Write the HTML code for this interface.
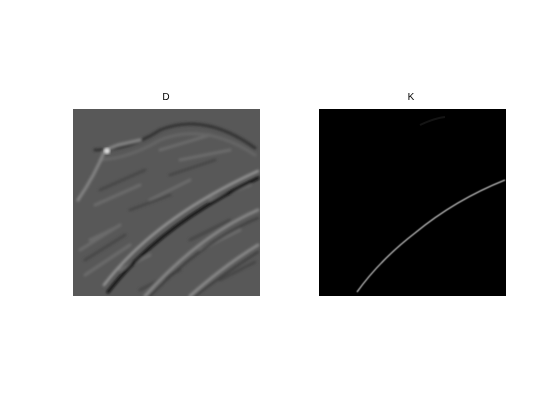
<!DOCTYPE html>
<html><head><meta charset="utf-8"><style>
html,body{margin:0;padding:0;background:#fff;width:559px;height:419px;overflow:hidden}
svg{display:block}
text{font-family:"Liberation Sans",sans-serif;font-size:10px}
</style></head><body>
<svg width="559" height="419">
<defs>
<filter id="bl" x="-10%" y="-10%" width="120%" height="120%"><feGaussianBlur stdDeviation="1.2"/></filter>
<filter id="bl2"><feGaussianBlur stdDeviation="0.5"/></filter>
<clipPath id="cL"><rect x="73" y="109" width="187" height="187"/></clipPath>
<clipPath id="cR"><rect x="319" y="109" width="187" height="187"/></clipPath>
</defs>
<text x="166" y="100" text-anchor="middle">D</text>
<text x="411" y="100" text-anchor="middle">K</text>
<g clip-path="url(#cL)">
<rect x="73" y="109" width="187" height="187" fill="#585858"/>
<g filter="url(#bl)" fill="none" stroke-linecap="round">
<path d="M80,250 L120,225 M85,275 L130,245 M150,200 L190,180 M95,205 L140,185 M160,150 L210,135 M200,250 L240,230 M120,270 L150,255 M180,160 L230,150 M90,240 L115,228 M210,200 L250,185" stroke="#6c6c6c" stroke-width="3"/>
<path d="M85,260 L125,235 M100,190 L145,170 M170,175 L215,160 M190,240 L230,220 M130,210 L170,195 M220,280 L255,262 M140,290 L180,270" stroke="#474747" stroke-width="3"/>
<path d="M95,150 Q130,150 160,130 Q205,112 255,148" stroke="#333" stroke-width="3"/>
<path d="M100,160 Q130,158 160,140 Q205,122 255,155" stroke="#666" stroke-width="3"/>
<path d="M78,200 Q95,175 105,150 L118,145 L140,140" stroke="#858585" stroke-width="3"/>
<path d="M108,292 Q160,225 258,178" stroke="#111" stroke-width="3"/>
<path d="M104,285 Q155,218 258,171" stroke="#999" stroke-width="2.5"/>
<path d="M145,296 Q200,235 258,210" stroke="#888" stroke-width="3"/>
<path d="M150,296 Q205,240 258,218" stroke="#3a3a3a" stroke-width="2"/>
<path d="M190,296 Q225,265 258,245" stroke="#8a8a8a" stroke-width="3"/>
<path d="M195,296 Q230,270 258,252" stroke="#3c3c3c" stroke-width="2"/>
</g>
<circle cx="107" cy="151" r="3" fill="#ddd" filter="url(#bl)"/>
</g>
<g clip-path="url(#cR)">
<rect x="319" y="109" width="187" height="187" fill="#000"/>
<path d="M357,292 Q380,260 415,233 Q455,200 505,180" fill="none" stroke="#bbb" stroke-width="1.3" filter="url(#bl2)"/>
<path d="M420,125 Q435,118 445,117" fill="none" stroke="#141414" stroke-width="2"/>
</g>
</svg>
</body></html>
